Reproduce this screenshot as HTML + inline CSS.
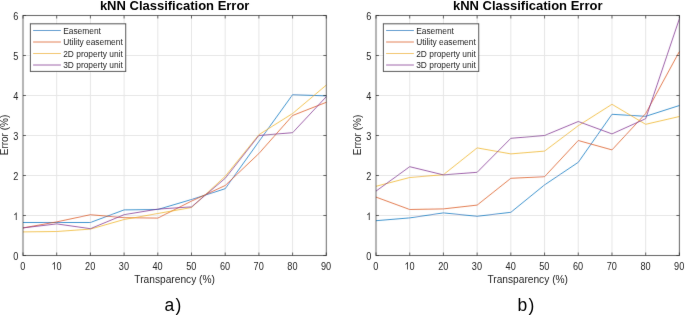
<!DOCTYPE html>
<html><head><meta charset="utf-8"><title>kNN Classification Error</title>
<style>html,body{margin:0;padding:0;background:#fff;width:685px;height:315px;overflow:hidden}svg{display:block}text{font-family:"Liberation Sans",sans-serif}</style>
</head><body><svg width="685" height="315" viewBox="0 0 685 315"><defs><filter id="bg" x="0" y="0" width="685" height="315" filterUnits="userSpaceOnUse"><feConvolveMatrix order="3" kernelMatrix="0.00524 0.06192 0.00524 0.06192 0.73137 0.06192 0.00524 0.06192 0.00524" divisor="1" edgeMode="duplicate" preserveAlpha="false"/></filter><filter id="bt" x="0" y="0" width="685" height="315" filterUnits="userSpaceOnUse"><feConvolveMatrix order="3" kernelMatrix="0.00163 0.03713 0.00163 0.03713 0.84497 0.03713 0.00163 0.03713 0.00163" divisor="1" edgeMode="duplicate" preserveAlpha="false"/></filter></defs><rect width="685" height="315" fill="#fff"/><g filter="url(#bg)"><g stroke="#e6e6e6" stroke-width="1"><line x1="56.70" y1="15.5" x2="56.70" y2="255.5"/><line x1="90.40" y1="15.5" x2="90.40" y2="255.5"/><line x1="124.10" y1="15.5" x2="124.10" y2="255.5"/><line x1="157.80" y1="15.5" x2="157.80" y2="255.5"/><line x1="191.50" y1="15.5" x2="191.50" y2="255.5"/><line x1="225.20" y1="15.5" x2="225.20" y2="255.5"/><line x1="258.90" y1="15.5" x2="258.90" y2="255.5"/><line x1="292.60" y1="15.5" x2="292.60" y2="255.5"/><line x1="23.0" y1="215.5" x2="326.3" y2="215.5"/><line x1="23.0" y1="175.5" x2="326.3" y2="175.5"/><line x1="23.0" y1="135.5" x2="326.3" y2="135.5"/><line x1="23.0" y1="95.5" x2="326.3" y2="95.5"/><line x1="23.0" y1="55.5" x2="326.3" y2="55.5"/></g><polyline points="23.00,222.50 56.70,222.50 90.40,222.50 124.10,209.90 157.80,209.50 191.50,199.50 225.20,188.70 258.90,141.50 292.60,94.70 326.30,95.90" fill="none" stroke="#0072BD" stroke-width="1" stroke-opacity="0.75" stroke-linejoin="round"/><polyline points="23.00,227.90 56.70,221.90 90.40,214.70 124.10,217.70 157.80,218.10 191.50,201.10 225.20,185.50 258.90,153.50 292.60,115.50 326.30,102.30" fill="none" stroke="#D95319" stroke-width="1" stroke-opacity="0.75" stroke-linejoin="round"/><polyline points="23.00,231.90 56.70,231.50 90.40,229.10 124.10,219.50 157.80,213.50 191.50,207.50 225.20,176.30 258.90,134.70 292.60,113.50 326.30,85.10" fill="none" stroke="#EDB120" stroke-width="1" stroke-opacity="0.75" stroke-linejoin="round"/><polyline points="23.00,227.90 56.70,223.90 90.40,228.70 124.10,214.70 157.80,209.10 191.50,206.90 225.20,178.30 258.90,135.50 292.60,132.70 326.30,96.70" fill="none" stroke="#7E2F8E" stroke-width="1" stroke-opacity="0.75" stroke-linejoin="round"/><g stroke="#262626" stroke-width="1" stroke-opacity="0.7" fill="none"><rect x="23.0" y="15.5" width="303.3" height="240.0"/><line x1="23.00" y1="255.5" x2="23.00" y2="252.5"/><line x1="23.00" y1="15.5" x2="23.00" y2="18.5"/><line x1="56.70" y1="255.5" x2="56.70" y2="252.5"/><line x1="56.70" y1="15.5" x2="56.70" y2="18.5"/><line x1="90.40" y1="255.5" x2="90.40" y2="252.5"/><line x1="90.40" y1="15.5" x2="90.40" y2="18.5"/><line x1="124.10" y1="255.5" x2="124.10" y2="252.5"/><line x1="124.10" y1="15.5" x2="124.10" y2="18.5"/><line x1="157.80" y1="255.5" x2="157.80" y2="252.5"/><line x1="157.80" y1="15.5" x2="157.80" y2="18.5"/><line x1="191.50" y1="255.5" x2="191.50" y2="252.5"/><line x1="191.50" y1="15.5" x2="191.50" y2="18.5"/><line x1="225.20" y1="255.5" x2="225.20" y2="252.5"/><line x1="225.20" y1="15.5" x2="225.20" y2="18.5"/><line x1="258.90" y1="255.5" x2="258.90" y2="252.5"/><line x1="258.90" y1="15.5" x2="258.90" y2="18.5"/><line x1="292.60" y1="255.5" x2="292.60" y2="252.5"/><line x1="292.60" y1="15.5" x2="292.60" y2="18.5"/><line x1="326.30" y1="255.5" x2="326.30" y2="252.5"/><line x1="326.30" y1="15.5" x2="326.30" y2="18.5"/><line x1="23.0" y1="255.5" x2="26.0" y2="255.5"/><line x1="326.3" y1="255.5" x2="323.3" y2="255.5"/><line x1="23.0" y1="215.5" x2="26.0" y2="215.5"/><line x1="326.3" y1="215.5" x2="323.3" y2="215.5"/><line x1="23.0" y1="175.5" x2="26.0" y2="175.5"/><line x1="326.3" y1="175.5" x2="323.3" y2="175.5"/><line x1="23.0" y1="135.5" x2="26.0" y2="135.5"/><line x1="326.3" y1="135.5" x2="323.3" y2="135.5"/><line x1="23.0" y1="95.5" x2="26.0" y2="95.5"/><line x1="326.3" y1="95.5" x2="323.3" y2="95.5"/><line x1="23.0" y1="55.5" x2="26.0" y2="55.5"/><line x1="326.3" y1="55.5" x2="323.3" y2="55.5"/><line x1="23.0" y1="15.5" x2="26.0" y2="15.5"/><line x1="326.3" y1="15.5" x2="323.3" y2="15.5"/></g><rect x="30.40" y="23.80" width="95.3" height="47.6" fill="#fff" stroke="#262626" stroke-opacity="0.85" stroke-width="1"/><line x1="33.10" y1="30.50" x2="60.90" y2="30.50" stroke="#0072BD" stroke-opacity="0.75" stroke-width="1"/><line x1="33.10" y1="42.00" x2="60.90" y2="42.00" stroke="#D95319" stroke-opacity="0.75" stroke-width="1"/><line x1="33.10" y1="53.50" x2="60.90" y2="53.50" stroke="#EDB120" stroke-opacity="0.75" stroke-width="1"/><line x1="33.10" y1="65.00" x2="60.90" y2="65.00" stroke="#7E2F8E" stroke-opacity="0.75" stroke-width="1"/><g stroke="#e6e6e6" stroke-width="1"><line x1="409.71" y1="15.5" x2="409.71" y2="255.5"/><line x1="443.42" y1="15.5" x2="443.42" y2="255.5"/><line x1="477.13" y1="15.5" x2="477.13" y2="255.5"/><line x1="510.84" y1="15.5" x2="510.84" y2="255.5"/><line x1="544.56" y1="15.5" x2="544.56" y2="255.5"/><line x1="578.27" y1="15.5" x2="578.27" y2="255.5"/><line x1="611.98" y1="15.5" x2="611.98" y2="255.5"/><line x1="645.69" y1="15.5" x2="645.69" y2="255.5"/><line x1="376.0" y1="215.5" x2="679.4" y2="215.5"/><line x1="376.0" y1="175.5" x2="679.4" y2="175.5"/><line x1="376.0" y1="135.5" x2="679.4" y2="135.5"/><line x1="376.0" y1="95.5" x2="679.4" y2="95.5"/><line x1="376.0" y1="55.5" x2="679.4" y2="55.5"/></g><polyline points="376.00,220.70 409.71,217.90 443.42,212.90 477.13,216.30 510.84,212.30 544.56,184.90 578.27,162.30 611.98,114.30 645.69,116.30 679.40,105.50" fill="none" stroke="#0072BD" stroke-width="1" stroke-opacity="0.75" stroke-linejoin="round"/><polyline points="376.00,197.10 409.71,209.50 443.42,208.90 477.13,205.10 510.84,178.30 544.56,176.70 578.27,140.50 611.98,149.90 645.69,113.50 679.40,51.50" fill="none" stroke="#D95319" stroke-width="1" stroke-opacity="0.75" stroke-linejoin="round"/><polyline points="376.00,186.30 409.71,177.50 443.42,174.70 477.13,147.90 510.84,153.90 544.56,151.10 578.27,125.70 611.98,104.30 645.69,124.30 679.40,116.50" fill="none" stroke="#EDB120" stroke-width="1" stroke-opacity="0.75" stroke-linejoin="round"/><polyline points="376.00,191.10 409.71,166.70 443.42,174.90 477.13,172.30 510.84,138.30 544.56,135.50 578.27,121.50 611.98,133.90 645.69,118.70 679.40,18.70" fill="none" stroke="#7E2F8E" stroke-width="1" stroke-opacity="0.75" stroke-linejoin="round"/><g stroke="#262626" stroke-width="1" stroke-opacity="0.7" fill="none"><rect x="376.0" y="15.5" width="303.4" height="240.0"/><line x1="376.00" y1="255.5" x2="376.00" y2="252.5"/><line x1="376.00" y1="15.5" x2="376.00" y2="18.5"/><line x1="409.71" y1="255.5" x2="409.71" y2="252.5"/><line x1="409.71" y1="15.5" x2="409.71" y2="18.5"/><line x1="443.42" y1="255.5" x2="443.42" y2="252.5"/><line x1="443.42" y1="15.5" x2="443.42" y2="18.5"/><line x1="477.13" y1="255.5" x2="477.13" y2="252.5"/><line x1="477.13" y1="15.5" x2="477.13" y2="18.5"/><line x1="510.84" y1="255.5" x2="510.84" y2="252.5"/><line x1="510.84" y1="15.5" x2="510.84" y2="18.5"/><line x1="544.56" y1="255.5" x2="544.56" y2="252.5"/><line x1="544.56" y1="15.5" x2="544.56" y2="18.5"/><line x1="578.27" y1="255.5" x2="578.27" y2="252.5"/><line x1="578.27" y1="15.5" x2="578.27" y2="18.5"/><line x1="611.98" y1="255.5" x2="611.98" y2="252.5"/><line x1="611.98" y1="15.5" x2="611.98" y2="18.5"/><line x1="645.69" y1="255.5" x2="645.69" y2="252.5"/><line x1="645.69" y1="15.5" x2="645.69" y2="18.5"/><line x1="679.40" y1="255.5" x2="679.40" y2="252.5"/><line x1="679.40" y1="15.5" x2="679.40" y2="18.5"/><line x1="376.0" y1="255.5" x2="379.0" y2="255.5"/><line x1="679.4" y1="255.5" x2="676.4" y2="255.5"/><line x1="376.0" y1="215.5" x2="379.0" y2="215.5"/><line x1="679.4" y1="215.5" x2="676.4" y2="215.5"/><line x1="376.0" y1="175.5" x2="379.0" y2="175.5"/><line x1="679.4" y1="175.5" x2="676.4" y2="175.5"/><line x1="376.0" y1="135.5" x2="379.0" y2="135.5"/><line x1="679.4" y1="135.5" x2="676.4" y2="135.5"/><line x1="376.0" y1="95.5" x2="379.0" y2="95.5"/><line x1="679.4" y1="95.5" x2="676.4" y2="95.5"/><line x1="376.0" y1="55.5" x2="379.0" y2="55.5"/><line x1="679.4" y1="55.5" x2="676.4" y2="55.5"/><line x1="376.0" y1="15.5" x2="379.0" y2="15.5"/><line x1="679.4" y1="15.5" x2="676.4" y2="15.5"/></g><rect x="383.40" y="23.80" width="95.3" height="47.6" fill="#fff" stroke="#262626" stroke-opacity="0.85" stroke-width="1"/><line x1="386.10" y1="30.50" x2="413.90" y2="30.50" stroke="#0072BD" stroke-opacity="0.75" stroke-width="1"/><line x1="386.10" y1="42.00" x2="413.90" y2="42.00" stroke="#D95319" stroke-opacity="0.75" stroke-width="1"/><line x1="386.10" y1="53.50" x2="413.90" y2="53.50" stroke="#EDB120" stroke-opacity="0.75" stroke-width="1"/><line x1="386.10" y1="65.00" x2="413.90" y2="65.00" stroke="#7E2F8E" stroke-opacity="0.75" stroke-width="1"/></g><g filter="url(#bt)" fill="#262626" font-family="Liberation Sans, sans-serif"><text x="63.20" y="33.50" font-size="8.4">Easement</text><text x="63.20" y="45.00" font-size="8.4">Utility easement</text><text x="63.20" y="56.50" font-size="8.4">2D property unit</text><text x="63.20" y="68.00" font-size="8.4">3D property unit</text><g font-size="10.4"><text transform="translate(22.80,269.50) scale(0.88,1)" text-anchor="middle">0</text><g transform="translate(56.50,269.50) scale(0.88,1)"><path transform="scale(10.4,-10.4) translate(-0.556,0)" d="M0.373 0H0.285V0.560Q0.253 0.530 0.201 0.500T0.109 0.454V0.539Q0.183 0.574 0.238 0.623T0.316 0.719H0.373Z"/><text x="0" y="0">0</text></g><text transform="translate(90.20,269.50) scale(0.88,1)" text-anchor="middle">20</text><text transform="translate(123.90,269.50) scale(0.88,1)" text-anchor="middle">30</text><text transform="translate(157.60,269.50) scale(0.88,1)" text-anchor="middle">40</text><text transform="translate(191.30,269.50) scale(0.88,1)" text-anchor="middle">50</text><text transform="translate(225.00,269.50) scale(0.88,1)" text-anchor="middle">60</text><text transform="translate(258.70,269.50) scale(0.88,1)" text-anchor="middle">70</text><text transform="translate(292.40,269.50) scale(0.88,1)" text-anchor="middle">80</text><text transform="translate(326.10,269.50) scale(0.88,1)" text-anchor="middle">90</text><text transform="translate(18.30,260.40) scale(0.88,1)" text-anchor="end">0</text><g transform="translate(18.30,220.00) scale(0.88,1)"><path transform="scale(10.4,-10.4) translate(-0.556,0)" d="M0.373 0H0.285V0.560Q0.253 0.530 0.201 0.500T0.109 0.454V0.539Q0.183 0.574 0.238 0.623T0.316 0.719H0.373Z"/></g><text transform="translate(18.30,180.40) scale(0.88,1)" text-anchor="end">2</text><text transform="translate(18.30,140.40) scale(0.88,1)" text-anchor="end">3</text><text transform="translate(18.30,100.40) scale(0.88,1)" text-anchor="end">4</text><text transform="translate(18.30,60.40) scale(0.88,1)" text-anchor="end">5</text><text transform="translate(18.30,20.40) scale(0.88,1)" text-anchor="end">6</text></g><text x="174.65" y="282.8" text-anchor="middle" font-size="10.2">Transparency (%)</text><text transform="translate(8.00,135.00) rotate(-90)" text-anchor="middle" font-size="10">Error (%)</text><text x="174.65" y="9.8" text-anchor="middle" font-size="13" font-weight="bold" fill="#000">kNN Classification Error</text><text x="416.20" y="33.50" font-size="8.4">Easement</text><text x="416.20" y="45.00" font-size="8.4">Utility easement</text><text x="416.20" y="56.50" font-size="8.4">2D property unit</text><text x="416.20" y="68.00" font-size="8.4">3D property unit</text><g font-size="10.4"><text transform="translate(375.80,269.50) scale(0.88,1)" text-anchor="middle">0</text><g transform="translate(409.51,269.50) scale(0.88,1)"><path transform="scale(10.4,-10.4) translate(-0.556,0)" d="M0.373 0H0.285V0.560Q0.253 0.530 0.201 0.500T0.109 0.454V0.539Q0.183 0.574 0.238 0.623T0.316 0.719H0.373Z"/><text x="0" y="0">0</text></g><text transform="translate(443.22,269.50) scale(0.88,1)" text-anchor="middle">20</text><text transform="translate(476.93,269.50) scale(0.88,1)" text-anchor="middle">30</text><text transform="translate(510.64,269.50) scale(0.88,1)" text-anchor="middle">40</text><text transform="translate(544.36,269.50) scale(0.88,1)" text-anchor="middle">50</text><text transform="translate(578.07,269.50) scale(0.88,1)" text-anchor="middle">60</text><text transform="translate(611.78,269.50) scale(0.88,1)" text-anchor="middle">70</text><text transform="translate(645.49,269.50) scale(0.88,1)" text-anchor="middle">80</text><text transform="translate(679.20,269.50) scale(0.88,1)" text-anchor="middle">90</text><text transform="translate(371.30,260.40) scale(0.88,1)" text-anchor="end">0</text><g transform="translate(371.30,220.00) scale(0.88,1)"><path transform="scale(10.4,-10.4) translate(-0.556,0)" d="M0.373 0H0.285V0.560Q0.253 0.530 0.201 0.500T0.109 0.454V0.539Q0.183 0.574 0.238 0.623T0.316 0.719H0.373Z"/></g><text transform="translate(371.30,180.40) scale(0.88,1)" text-anchor="end">2</text><text transform="translate(371.30,140.40) scale(0.88,1)" text-anchor="end">3</text><text transform="translate(371.30,100.40) scale(0.88,1)" text-anchor="end">4</text><text transform="translate(371.30,60.40) scale(0.88,1)" text-anchor="end">5</text><text transform="translate(371.30,20.40) scale(0.88,1)" text-anchor="end">6</text></g><text x="527.70" y="282.8" text-anchor="middle" font-size="10.2">Transparency (%)</text><text transform="translate(361.00,135.00) rotate(-90)" text-anchor="middle" font-size="10">Error (%)</text><text x="527.70" y="9.8" text-anchor="middle" font-size="13" font-weight="bold" fill="#000">kNN Classification Error</text><text x="164.6" y="310.5" font-size="17.5" letter-spacing="1.2" fill="#000">a)</text><text x="517.6" y="310.5" font-size="17.5" letter-spacing="1.2" fill="#000">b)</text></g></svg></body></html>
